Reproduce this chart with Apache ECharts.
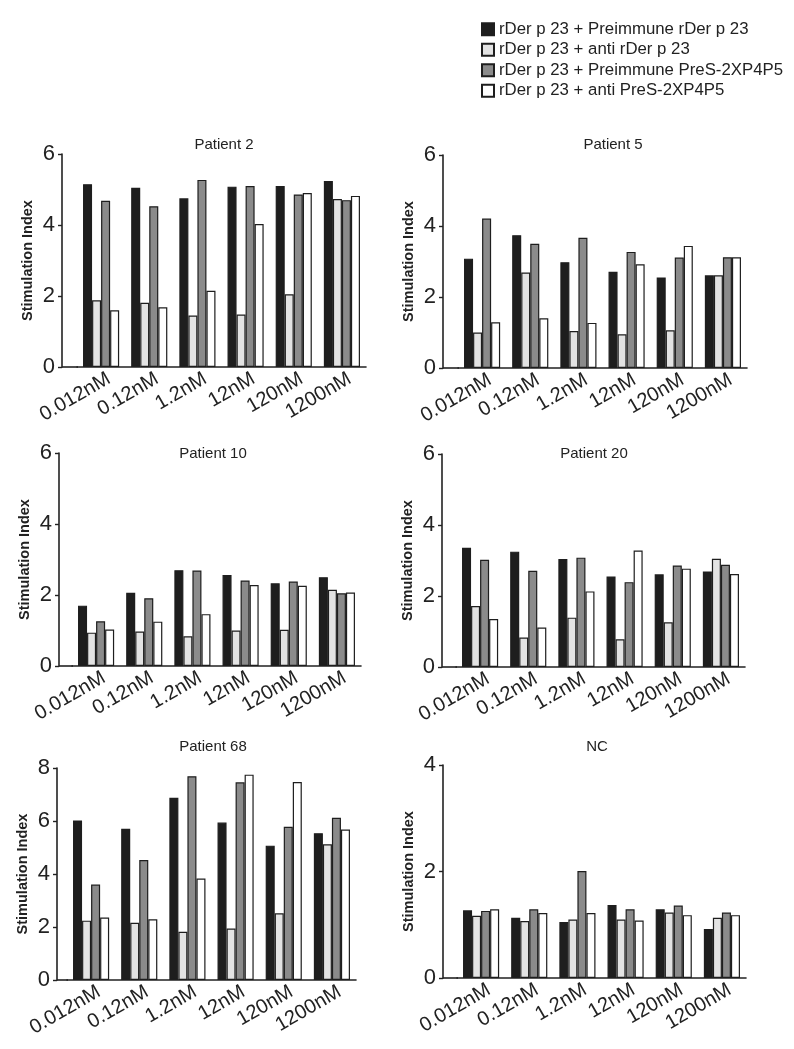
<!DOCTYPE html>
<html>
<head>
<meta charset="utf-8">
<script src="https://cdn.jsdelivr.net/npm/echarts@6/dist/echarts.min.js"></script>
<style>
  html, body { margin: 0; padding: 0; background: #fff; }
  #chart { width: 794px; height: 1049px; }
</style>
</head>
<body>
<div id="chart"></div>
<script>
const doses = ['0.012nM', '0.12nM', '1.2nM', '12nM', '120nM', '1200nM']
const seriesNames = [
  'rDer p 23 + Preimmune rDer p 23',
  'rDer p 23 + anti rDer p 23',
  'rDer p 23 + Preimmune PreS-2XP4P5',
  'rDer p 23 + anti PreS-2XP4P5'
]
const panelTitles = ['Patient 2', 'Patient 5', 'Patient 10', 'Patient 20', 'Patient 68', 'NC']
const yMaxes = [6, 6, 6, 6, 8, 4]
const yStep = 2

// one row per series, in the order of seriesNames
const patient2 = [
  [5.15, 5.05, 4.75, 5.08, 5.10, 5.24],
  [1.88, 1.81, 1.45, 1.48, 2.05, 4.73],
  [4.68, 4.53, 5.27, 5.10, 4.86, 4.70],
  [1.60, 1.68, 2.15, 4.03, 4.90, 4.82]
]
const patient5 = [
  [3.08, 3.74, 2.98, 2.71, 2.55, 2.61],
  [1.00, 2.69, 1.04, 0.95, 1.06, 2.61],
  [4.21, 3.50, 3.67, 3.27, 3.11, 3.12],
  [1.29, 1.40, 1.27, 2.92, 3.44, 3.12]
]
const patient10 = [
  [1.70, 2.06, 2.70, 2.56, 2.33, 2.50],
  [0.94, 0.97, 0.84, 1.00, 1.02, 2.15],
  [1.26, 1.91, 2.69, 2.41, 2.38, 2.05],
  [1.03, 1.25, 1.46, 2.28, 2.26, 2.07]
]
const patient20 = [
  [3.36, 3.25, 3.04, 2.55, 2.61, 2.69],
  [1.72, 0.83, 1.39, 0.78, 1.26, 3.05],
  [3.02, 2.71, 3.08, 2.39, 2.86, 2.88],
  [1.35, 1.11, 2.13, 3.28, 2.77, 2.62]
]
const patient68 = [
  [6.02, 5.71, 6.88, 5.94, 5.07, 5.54],
  [2.24, 2.16, 1.82, 1.94, 2.52, 5.12],
  [3.60, 4.53, 7.69, 7.46, 5.78, 6.12],
  [2.36, 2.29, 3.83, 7.75, 7.47, 5.68]
]
const negControl = [
  [1.27, 1.13, 1.05, 1.37, 1.29, 0.92],
  [1.17, 1.07, 1.10, 1.10, 1.23, 1.13],
  [1.26, 1.29, 2.01, 1.29, 1.36, 1.23],
  [1.29, 1.22, 1.22, 1.08, 1.18, 1.18]
]
const panelData = [patient2, patient5, patient10, patient20, patient68, negControl]

// layout: grid box, y axis pushed left by offset, title centre
const boxes = [
  { left: 77, top: 154, height: 213, offset: 15, tx: 224, ty: 137 },
  { left: 458, top: 155, height: 213, offset: 15, tx: 613, ty: 137 },
  { left: 72, top: 453, height: 213, offset: 13, tx: 213, ty: 446 },
  { left: 456, top: 454, height: 213, offset: 14, tx: 594, ty: 446 },
  { left: 67, top: 768, height: 212, offset: 10, tx: 213, ty: 739 },
  { left: 457, top: 765, height: 213, offset: 14, tx: 597, ty: 739 }
]
const gridWidth = 289

const fills = ['#1e1e1e', '#e3e3e3', '#8b8b8b', '#ffffff']
const ink = '#222'
const font = 'Liberation Sans, Arial, sans-serif'

const chart = echarts.init(document.getElementById('chart'), null, { renderer: 'canvas' })

const grids = [], xAxes = [], yAxes = [], titles = [], series = [], lines = []

boxes.forEach((b, i) => {
  grids.push({ left: b.left, top: b.top, width: gridWidth, height: b.height })
  titles.push({
    text: panelTitles[i], left: b.tx, top: b.ty, textAlign: 'center', padding: 0,
    textStyle: { fontSize: 15, fontWeight: 'normal', color: ink, fontFamily: font }
  })
  xAxes.push({
    type: 'category', gridIndex: i, data: doses,
    axisLine: { lineStyle: { color: ink, width: 1.6 } },
    axisTick: { show: false },
    // labels end a little right of the group centre, as in the original
    axisLabel: { rotate: 30, interval: 0, fontSize: 20, margin: 15, padding: [0, -9, 0, 0], color: ink, fontFamily: font }
  })
  yAxes.push({
    type: 'value', gridIndex: i, min: 0, max: yMaxes[i], interval: yStep, offset: b.offset,
    name: 'Stimulation Index', nameLocation: 'middle', nameGap: 27,
    nameTextStyle: { fontSize: 14.5, fontWeight: 'bold', color: ink, fontFamily: font },
    axisLine: { show: true, lineStyle: { color: ink, width: 1.6 } },
    axisTick: { show: true, length: 4, lineStyle: { color: ink, width: 1.4 } },
    splitLine: { show: false },
    axisLabel: { fontSize: 22, margin: 7, color: ink, fontFamily: font }
  })
  // stretch the x axis line back to the offset y axis
  lines.push({
    type: 'line', silent: true,
    shape: { x1: b.left - b.offset, y1: b.top + b.height, x2: b.left + 1, y2: b.top + b.height },
    style: { stroke: ink, lineWidth: 1.6 }
  })
  panelData[i].forEach((vals, k) => {
    series.push({
      type: 'bar', name: seriesNames[k], xAxisIndex: i, yAxisIndex: i, data: vals,
      barGap: '0%', barCategoryGap: '25%',
      itemStyle: { color: fills[k], borderColor: '#1e1e1e', borderWidth: 1.2 }
    })
  })
})

chart.setOption({
  animation: false,
  backgroundColor: '#fff',
  title: titles,
  legend: {
    data: seriesNames, orient: 'vertical', left: 476, top: 14,
    icon: 'rect', itemWidth: 12, itemHeight: 12, itemGap: 0,
    textStyle: { fontSize: 16.8, lineHeight: 20.5, color: ink, fontFamily: font }
  },
  grid: grids,
  xAxis: xAxes,
  yAxis: yAxes,
  series: series,
  graphic: lines
})
</script>
</body>
</html>
